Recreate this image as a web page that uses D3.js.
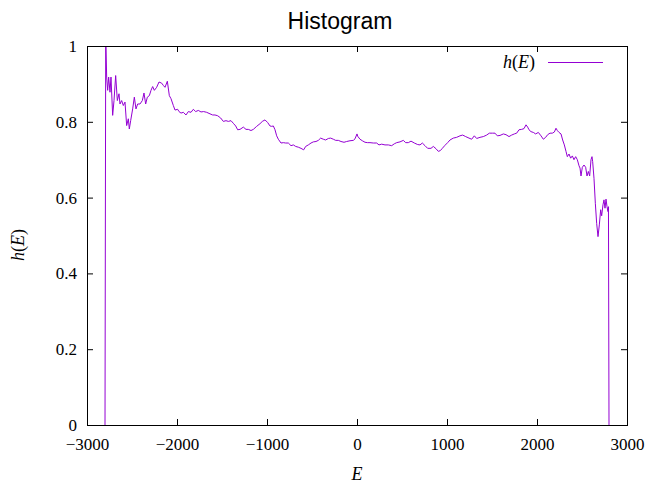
<!DOCTYPE html>
<html><head><meta charset="utf-8">
<script src="https://cdn.jsdelivr.net/npm/d3@7"></script>
<style>body{margin:0;background:#fff}svg{display:block}</style>
</head><body>
<script>
const energy = [-2800,-2792,-2781.5,-2770.4,-2759.3,-2744.5,-2733.4,-2714.8,-2700,-2681.5,-2663,-2644.5,-2633.4,-2615,-2596.3,-2577.8,-2559.3,-2540.8,-2529.7,-2514.8,-2492.6,-2474.1,-2455.6,-2437,-2411.1,-2385.2,-2366.7,-2348.2,-2329.6,-2307.4,-2288.9,-2270.4,-2251.8,-2225.9,-2200,-2170.4,-2151.8,-2133.3,-2107.4,-2085.2,-2066.6,-2040.7,-2022.2,-1992.6,-1977.8,-1955.5,-1929.6,-1900,-1874,-1844.4,-1818.5,-1792.6,-1763,-1733.3,-1703.7,-1670.4,-1633.3,-1603.7,-1577.8,-1548.1,-1514.8,-1485.2,-1455.6,-1429.6,-1400,-1374,-1348,-1325.9,-1300,-1263,-1233.3,-1207.4,-1177.8,-1151.8,-1114.8,-1077.8,-1051.8,-1022.2,-992.6,-966.7,-948.1,-929.6,-911.1,-892.6,-874,-844.4,-818.5,-792.6,-763,-733.3,-707.4,-681.5,-651.9,-622.2,-592.6,-570.4,-540.7,-511.1,-485.2,-455.6,-429.6,-403.7,-374,-348.1,-318.5,-292.6,-263,-236.7,-207.4,-177.8,-144.4,-114.8,-77.8,-40.7,-22.2,0,7.4,33.3,59.3,88.9,118.5,144.4,181.5,218.5,244.4,274.1,311.1,348.1,385.2,414.8,440.7,477.8,514.8,540.7,570.4,600,637,674.1,700,725.9,755.6,785.2,822.2,848.1,877.8,903.7,925.9,948.1,977.8,1007.4,1033.3,1070.4,1107.4,1144.4,1174.1,1207.4,1244.4,1274.1,1303.7,1329.6,1366.7,1403.7,1440.7,1470.4,1503.7,1533.3,1559.3,1588.9,1625.9,1655.6,1688.9,1718.5,1748.1,1774.1,1800,1829.6,1855.6,1877.8,1896.3,1911.1,1933.3,1959.3,1985.2,2014.8,2044.4,2070.4,2096.3,2118.5,2144.4,2170.4,2192.6,2211.1,2226,2244.4,2266.7,2285.2,2303.7,2322.2,2337,2355.6,2374.1,2392.6,2411.1,2429.6,2448.1,2466.7,2477.8,2488.9,2503.7,2522.2,2540.7,2555.6,2570.4,2585.2,2600,2611.1,2618.5,2633.3,2648.1,2663,2677.8,2692.6,2707.4,2718.5,2733.3,2744.4,2755.6,2766.7,2777.8,2788.9,2794,2800];
const hist = [0,1.03,0.918,0.883,0.918,0.878,0.918,0.817,0.856,0.922,0.856,0.874,0.847,0.856,0.843,0.852,0.790,0.808,0.781,0.803,0.834,0.865,0.834,0.847,0.847,0.856,0.876,0.847,0.865,0.869,0.883,0.893,0.883,0.891,0.905,0.902,0.896,0.891,0.907,0.869,0.861,0.843,0.831,0.833,0.827,0.823,0.825,0.818,0.827,0.825,0.833,0.827,0.830,0.826,0.827,0.825,0.821,0.818,0.818,0.816,0.810,0.801,0.803,0.801,0.803,0.796,0.789,0.779,0.780,0.786,0.780,0.780,0.777,0.780,0.788,0.795,0.801,0.805,0.798,0.789,0.788,0.789,0.779,0.763,0.754,0.744,0.745,0.744,0.744,0.737,0.739,0.735,0.733,0.730,0.726,0.735,0.739,0.744,0.747,0.748,0.751,0.757,0.754,0.752,0.756,0.757,0.754,0.751,0.751,0.748,0.746,0.748,0.750,0.751,0.755,0.768,0.762,0.754,0.750,0.746,0.745,0.745,0.744,0.744,0.739,0.741,0.739,0.739,0.737,0.742,0.745,0.747,0.751,0.745,0.745,0.749,0.744,0.740,0.739,0.744,0.737,0.730,0.730,0.735,0.729,0.722,0.724,0.730,0.738,0.745,0.752,0.757,0.759,0.763,0.765,0.761,0.757,0.754,0.763,0.756,0.759,0.761,0.765,0.770,0.770,0.770,0.763,0.764,0.768,0.766,0.761,0.765,0.768,0.770,0.779,0.780,0.782,0.792,0.786,0.779,0.774,0.772,0.768,0.772,0.763,0.754,0.759,0.766,0.770,0.770,0.773,0.783,0.777,0.772,0.768,0.752,0.739,0.722,0.708,0.715,0.704,0.710,0.700,0.708,0.700,0.684,0.678,0.657,0.680,0.686,0.680,0.657,0.669,0.657,0.700,0.708,0.695,0.651,0.585,0.532,0.497,0.528,0.568,0.552,0.581,0.594,0.572,0.596,0.576,0.563,0.576,0];
const xTicks = [-3000,-2000,-1000,0,1000,2000,3000];
const yTicks = [0,0.2,0.4,0.6,0.8,1];
const yTickLabels = ["0","0.2","0.4","0.6","0.8","1"];
const titleText = "Histogram";
const seriesName = "h(E)";

const W = 648, H = 483;
const m = {left:87, right:21, top:46, bottom:58};
const svg = d3.select("body").append("svg").attr("width",W).attr("height",H);
const x = d3.scaleLinear().domain([-3000,3000]).range([m.left, W-m.right]);
const y = d3.scaleLinear().domain([0,1]).range([H-m.bottom, m.top]);
const serif = "'Liberation Serif','Times New Roman',serif";
const fs = 17;

svg.append("defs").append("clipPath").attr("id","clip").append("rect")
  .attr("x",m.left).attr("y",m.top).attr("width",W-m.left-m.right).attr("height",H-m.top-m.bottom);

function styleAxis(g){
  g.select(".domain").remove();
  g.selectAll("line").attr("stroke","#000").attr("stroke-width",1);
  g.selectAll("text").attr("font-family",serif).attr("font-size",fs).attr("fill","#000");
}
// bottom
svg.append("g").attr("transform",`translate(0,${y(0)})`)
  .call(d3.axisBottom(x).tickValues(xTicks).tickSizeInner(-6).tickSizeOuter(0).tickPadding(13)
  .tickFormat(d => d3.format("")(d))).call(styleAxis);
// top
svg.append("g").attr("transform",`translate(0,${y(1)})`)
  .call(d3.axisTop(x).tickValues(xTicks).tickSizeInner(-6).tickSizeOuter(0).tickFormat(""))
  .call(styleAxis);
// left
svg.append("g").attr("transform",`translate(${x(-3000)},0)`)
  .call(d3.axisLeft(y).tickValues(yTicks).tickSizeInner(-6).tickSizeOuter(0).tickPadding(10)
  .tickFormat((d,i) => yTickLabels[i])).call(styleAxis);
// right
svg.append("g").attr("transform",`translate(${x(3000)},0)`)
  .call(d3.axisRight(y).tickValues(yTicks).tickSizeInner(-6).tickSizeOuter(0).tickFormat(""))
  .call(styleAxis);

// data line
const data = energy.map((e,i)=>[e,hist[i]]);
svg.append("path").datum(data).attr("clip-path","url(#clip)")
  .attr("fill","none").attr("stroke","#9400d3").attr("stroke-width",1)
  .attr("d", d3.line().x(d=>x(d[0])).y(d=>y(d[1])));

// border
svg.append("rect").attr("x",m.left+0.5).attr("y",m.top+0.5)
  .attr("width",W-m.left-m.right).attr("height",H-m.top-m.bottom)
  .attr("fill","none").attr("stroke","#000").attr("stroke-width",1);

// title
svg.append("text").attr("x",340).attr("y",29).attr("text-anchor","middle")
  .attr("font-family","'Liberation Sans',Arial,sans-serif").attr("font-size",23).text(titleText);

function hE(t){
  t.append("tspan").attr("font-style","italic").text("h");
  t.append("tspan").text("(");
  t.append("tspan").attr("font-style","italic").text("E");
  t.append("tspan").text(")");
}
// y label
const yl = svg.append("text").attr("transform","translate(24,245) rotate(-90)").attr("text-anchor","middle")
  .attr("font-family",serif).attr("font-size",18);
hE(yl);
// x label
svg.append("text").attr("x",357).attr("y",480).attr("text-anchor","middle")
  .attr("font-family",serif).attr("font-size",18).attr("font-style","italic").text("E");

// legend
const lg = svg.append("text").attr("x",535).attr("y",68).attr("text-anchor","end")
  .attr("font-family",serif).attr("font-size",18);
hE(lg);
svg.append("line").attr("x1",548).attr("x2",603).attr("y1",62.5).attr("y2",62.5)
  .attr("stroke","#9400d3").attr("stroke-width",1);
</script>
</body></html>
